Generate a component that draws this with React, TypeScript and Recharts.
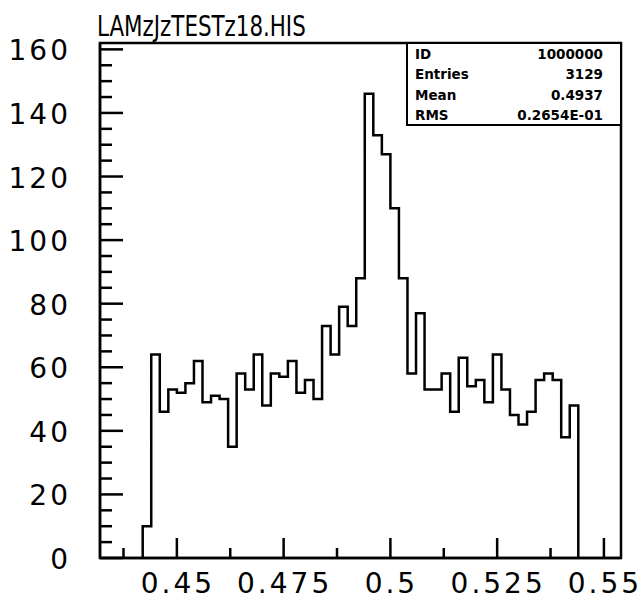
import React from "react";
import { ComposedChart, Line, XAxis, YAxis, ReferenceArea } from "recharts";

// histogram LAMzJzTESTz18.HIS, 0.002 wide bins starting at 0.442
const BIN_LO = 0.442;
const BIN_W = 0.002;
const COUNTS = [
  10, 64, 46, 53, 52, 55, 62, 49, 51, 50,
  35, 58, 53, 64, 48, 58, 57, 62, 52, 56,
  50, 73, 64, 79, 73, 88, 146, 133, 127, 110,
  88, 58, 77, 53, 53, 58, 46, 63, 54, 56,
  49, 64, 53, 45, 42, 46, 56, 58, 56, 38,
  48,
];

const X_DOMAIN = [0.432, 0.554];
const Y_DOMAIN = [0, 162];
const X_MAJOR = [0.45, 0.475, 0.5, 0.525, 0.55];
const X_MINOR = [0.4375, 0.4625, 0.4875, 0.5125, 0.5375];
const Y_MAJOR = [0, 20, 40, 60, 80, 100, 120, 140, 160];
const Y_MINOR = [
  5, 10, 15, 25, 30, 35, 45, 50, 55, 65, 70, 75, 85, 90, 95,
  105, 110, 115, 125, 130, 135, 145, 150, 155,
];

const STATS = [
  ["ID", "1000000"],
  ["Entries", "3129"],
  ["Mean", "0.4937"],
  ["RMS", "0.2654E-01"],
];

const histData = [
  { x: BIN_LO, count: 0 },
  ...COUNTS.map((c, i) => ({ x: BIN_LO + i * BIN_W, count: c })),
  { x: BIN_LO + COUNTS.length * BIN_W, count: 0 },
];

const CHART_W = 641;
const CHART_H = 599;
const MARGIN = { top: 43, right: 20, bottom: 0, left: 0 };
const X_AXIS_H = 41;
const Y_AXIS_W = 100;
const PLOT_BOTTOM = CHART_H - MARGIN.bottom - X_AXIS_H;
const PLOT_LEFT = MARGIN.left + Y_AXIS_W;

const LABEL_FONT = "'DejaVu Sans', sans-serif";
const LW = 2.5;

const isMajor = (v: number, list: number[]) => list.some((m) => Math.abs(m - v) < 1e-9);
const fmt = (v: number) => String(Number(v.toFixed(4)));

// PAW style: ticks point into the frame, majors longer
const renderXTick = (props: any) => {
  const { payload } = props;
  const x = payload.coordinate;
  const major = isMajor(payload.value, X_MAJOR);
  return (
    <g key={`xt-${payload.value}`}>
      <line x1={x} x2={x} y1={PLOT_BOTTOM} y2={PLOT_BOTTOM - (major ? 20 : 10)} stroke="#000" strokeWidth={LW} />
      {major && (
        <text x={x + 1} y={PLOT_BOTTOM + 35} textAnchor="middle" fontFamily={LABEL_FONT} fontSize={28}
          letterSpacing={3} fill="#000">
          {fmt(payload.value)}
        </text>
      )}
    </g>
  );
};

const renderYTick = (props: any) => {
  const { payload } = props;
  const y = payload.coordinate;
  const major = isMajor(payload.value, Y_MAJOR);
  return (
    <g key={`yt-${payload.value}`}>
      <line x1={PLOT_LEFT} x2={PLOT_LEFT + (major ? 23 : 12)} y1={y} y2={y} stroke="#000" strokeWidth={LW} />
      {major && (
        <text x={PLOT_LEFT - 29} y={y + 11} textAnchor="end" fontFamily={LABEL_FONT} fontSize={28}
          letterSpacing={3} fill="#000">
          {payload.value}
        </text>
      )}
    </g>
  );
};

export default function App() {
  return (
    <div style={{ position: "absolute", left: 0, top: 0, width: CHART_W, height: CHART_H, background: "#fff" }}>
      <div
        style={{
          position: "absolute", left: 97, top: 12, fontFamily: "'DejaVu Sans Condensed', 'DejaVu Sans', sans-serif",
          fontSize: 29, lineHeight: "29px", color: "#000", whiteSpace: "nowrap",
          transform: "scaleX(0.82)", transformOrigin: "left top",
        }}
      >
        LAMzJzTESTz18.HIS
      </div>
      <ComposedChart width={CHART_W} height={CHART_H} data={histData} margin={MARGIN}>
        <XAxis
          dataKey="x"
          type="number"
          domain={X_DOMAIN}
          ticks={[...X_MINOR, ...X_MAJOR].sort((a, b) => a - b)}
          interval={0}
          height={X_AXIS_H}
          tickSize={0}
          tickMargin={0}
          tickLine={false}
          tick={renderXTick}
          axisLine={{ stroke: "#000", strokeWidth: LW }}
          allowDataOverflow
        />
        <YAxis
          type="number"
          domain={Y_DOMAIN}
          ticks={[...Y_MAJOR, ...Y_MINOR].sort((a, b) => a - b)}
          interval={0}
          width={Y_AXIS_W}
          tickSize={0}
          tickMargin={0}
          tickLine={false}
          tick={renderYTick}
          axisLine={{ stroke: "#000", strokeWidth: LW }}
          allowDataOverflow
        />
        <ReferenceArea
          x1={X_DOMAIN[0]}
          x2={X_DOMAIN[1]}
          y1={Y_DOMAIN[0]}
          y2={Y_DOMAIN[1]}
          fill="none"
          stroke="#000"
          strokeWidth={LW}
          fillOpacity={0}
        />
        <Line
          type="stepAfter"
          dataKey="count"
          stroke="#000"
          strokeWidth={LW}
          dot={false}
          isAnimationActive={false}
        />
      </ComposedChart>
      <div
        style={{
          position: "absolute", left: 406, top: 42, width: 216, height: 84, boxSizing: "border-box",
          border: `${LW}px solid #000`, background: "#fff", padding: "0 17px 0 7px",
          fontFamily: LABEL_FONT, fontWeight: "bold", fontSize: 13.5, lineHeight: "20.3px", color: "#000",
        }}
      >
        {STATS.map(([k, v]) => (
          <div key={k} style={{ display: "flex", justifyContent: "space-between" }}>
            <span>{k}</span>
            <span>{v}</span>
          </div>
        ))}
      </div>
    </div>
  );
}
